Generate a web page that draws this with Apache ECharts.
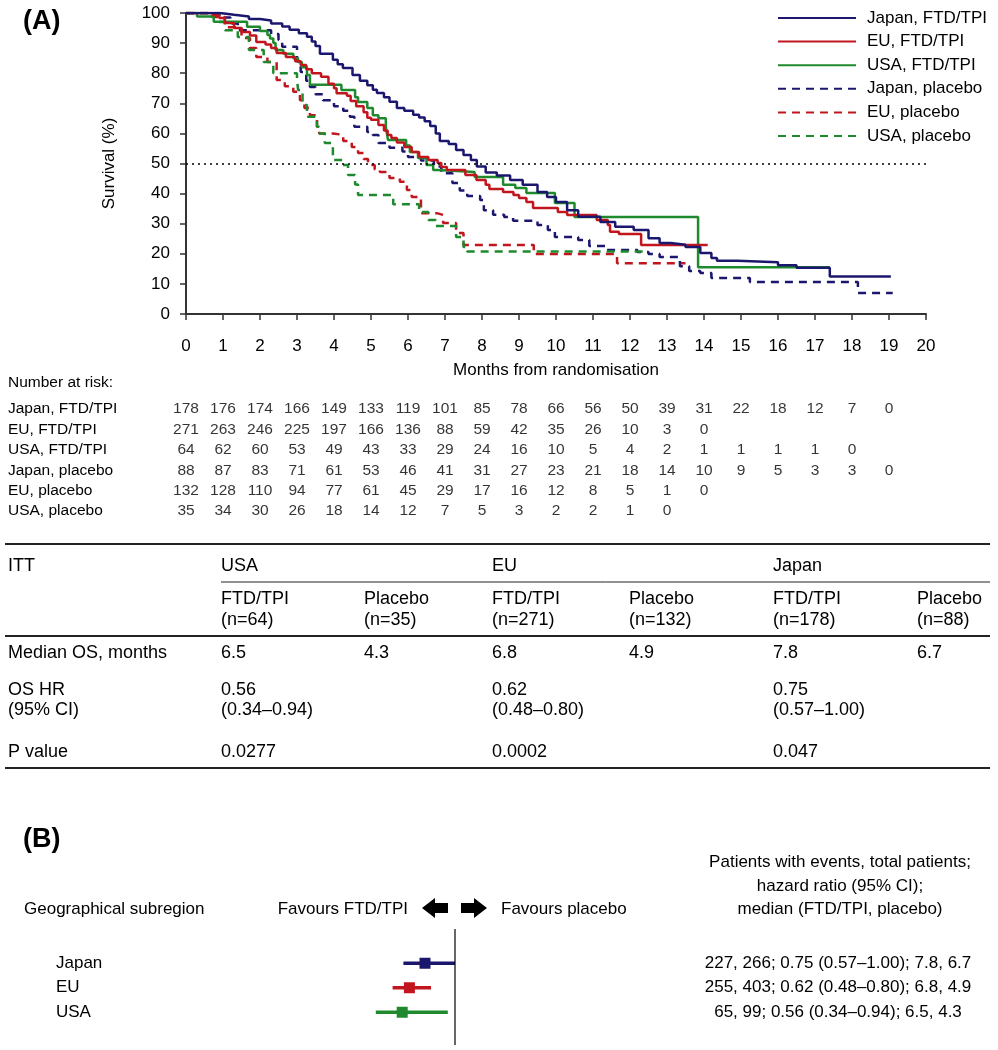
<!DOCTYPE html>
<html>
<head>
<meta charset="utf-8">
<script src="https://cdn.jsdelivr.net/npm/echarts@6/dist/echarts.min.js"></script>
<style>
  html, body { margin: 0; padding: 0; background: #fff; }
  #chart { width: 998px; height: 1050px; }
</style>
</head>
<body>
<div id="chart"></div>
<script>
const FONT = '"Liberation Sans", Arial, sans-serif'
const NAVY = '#1c176e'
const RED = '#c2161e'
const GREEN = '#1f8a2d'

// ---- panel A: Kaplan-Meier curves, [months, survival %]
const seriesNames = ['Japan, FTD/TPI', 'EU, FTD/TPI', 'USA, FTD/TPI', 'Japan, placebo', 'EU, placebo', 'USA, placebo']
const seriesColors = [NAVY, RED, GREEN, NAVY, RED, GREEN]

const jpFtd = [[0,100],[0.92,99.4],[1.3,98.8],[1.7,98],[2.0,97.5],[2.3,96.5],[2.6,95.5],[2.8,94.4],[3.05,93.3],[3.27,92.1],[3.4,90.5],[3.5,89],[3.62,86.5],[3.97,84.5],[4.1,83],[4.24,81.7],[4.5,79.4],[4.7,77.5],[4.9,76],[5.05,74.5],[5.16,73.4],[5.35,72],[5.5,70.5],[5.7,68.4],[5.9,67.5],[6.14,66.2],[6.3,65.3],[6.45,64],[6.6,62.5],[6.75,60],[6.86,57.5],[7.1,56.5],[7.3,54.5],[7.5,52.8],[7.7,51.2],[7.86,49],[8.1,47],[8.4,46],[8.76,44.5],[9.1,42.9],[9.5,40.5],[9.76,38.9],[10.0,37.2],[10.3,34.5],[10.6,32.3],[11.2,30.6],[11.6,29],[12.1,27.9],[12.5,25.2],[12.8,23.6],[13.1,23],[13.5,22.3],[13.9,20.3],[14.2,18.6],[14.35,17.7],[14.9,17.2],[16.0,16.2],[16.5,15.4],[17.4,12.5],[19.05,12.5]]
const euFtd = [[0,100],[0.73,99.3],[0.9,98.3],[1.05,96.7],[1.3,95],[1.5,93.7],[1.73,92.5],[1.9,90.4],[2.15,89.5],[2.3,88.4],[2.45,86.7],[2.7,85.4],[2.95,84],[3.1,82.7],[3.25,81.3],[3.4,80],[3.65,78.8],[3.85,76.5],[4.0,75],[4.07,73.3],[4.35,72.5],[4.45,70.8],[4.6,69],[4.8,67],[4.9,65.2],[5.0,64.5],[5.2,62.8],[5.35,61],[5.45,59.5],[5.55,58.5],[5.7,57],[5.9,55.5],[6.1,53.8],[6.3,52.2],[6.55,51.2],[6.8,50.2],[6.9,48.8],[7.05,47.8],[7.55,46.2],[7.85,44.5],[8.1,42.9],[8.2,41.5],[8.57,40.5],[8.85,39.5],[9.0,38.5],[9.2,37.2],[9.38,35.2],[10.05,33.9],[10.3,32.9],[11.1,31.2],[11.4,29.6],[11.46,27.3],[11.7,26.6],[12.3,22.9],[14.1,22.9]]
const usFtd = [[0,100],[0.3,98.8],[0.75,97.1],[1.65,95.4],[2.0,94],[2.2,92.7],[2.27,91.5],[2.36,90],[2.42,87.7],[2.63,86.5],[2.9,85],[3.03,83.7],[3.13,82],[3.27,79.4],[3.35,76.2],[4.2,74.4],[4.57,72],[4.65,70.4],[4.9,68.4],[5.05,66],[5.2,65],[5.4,62],[5.43,60],[5.46,57.8],[5.95,56],[6.05,53.8],[6.27,51.8],[6.5,49.5],[6.68,47.8],[6.8,47.2],[7.8,45.5],[8.57,42.9],[8.9,41.9],[9.2,40.2],[9.97,36.9],[10.5,32.2],[13.84,15.5],[17.4,15.5]]
const jpPla = [[0,100],[0.9,98.5],[1.2,96.5],[1.4,94.3],[2.3,93],[2.5,91],[2.6,88.8],[3.0,84],[3.1,80.4],[3.25,77.5],[3.35,75.4],[3.5,73],[3.7,71],[4.0,69],[4.25,67.5],[4.43,65.5],[4.55,62.2],[4.9,60.5],[5.05,59.5],[5.2,56.8],[5.5,55.2],[5.85,54],[6.0,52.2],[6.35,51],[6.7,49],[6.9,46.8],[7.2,43.5],[7.4,41],[7.6,39.2],[7.95,37.9],[8.05,34.5],[8.3,33],[8.6,32.2],[8.84,31],[9.5,29.6],[9.78,27.9],[9.97,25.6],[10.6,24.6],[10.9,22.6],[11.35,21.3],[12.2,20.6],[12.5,19.9],[12.8,18.9],[13.35,15.9],[13.6,14.3],[13.9,13.6],[14.2,12],[15.24,10.6],[18.16,7],[19.1,7]]
const euPla = [[0,100],[0.7,98.7],[1.05,95.3],[1.5,91.7],[1.73,88.4],[1.9,85.4],[2.2,83.7],[2.45,77.7],[2.67,75.7],[2.9,73.8],[3.08,71],[3.2,68.4],[3.35,66],[3.54,62.2],[3.6,60],[3.97,59.5],[4.25,57.5],[4.48,55.5],[4.65,53.5],[4.8,51.5],[4.92,49.5],[5.1,48],[5.24,47.2],[5.5,45.2],[5.78,43.9],[5.97,41.2],[6.1,38.9],[6.35,33.5],[6.78,32.9],[6.95,30.2],[7.3,26.9],[7.5,22.9],[9.4,19.9],[11.65,16.9],[13.5,16.9]]
const usPla = [[0,100],[0.9,97],[1.05,94.3],[1.4,92],[1.7,87.7],[2.1,83.7],[2.36,80],[3.0,77.7],[3.03,74.4],[3.15,69.4],[3.27,65.5],[3.54,62.2],[3.6,60],[3.75,56.8],[3.97,51.2],[4.24,49.5],[4.38,46.2],[4.57,43],[4.65,39.5],[5.6,36.5],[6.3,33.9],[6.55,31.2],[6.75,29.2],[7.3,25.6],[7.5,22.3],[7.6,20.8],[12.4,20.8]]
const kmData = [jpFtd, euFtd, usFtd, jpPla, euPla, usPla]

// ---- number at risk, one value per month from 0
const riskRows = seriesNames
const riskJpFtd = [178, 176, 174, 166, 149, 133, 119, 101, 85, 78, 66, 56, 50, 39, 31, 22, 18, 12, 7, 0]
const riskEuFtd = [271, 263, 246, 225, 197, 166, 136, 88, 59, 42, 35, 26, 10, 3, 0]
const riskUsFtd = [64, 62, 60, 53, 49, 43, 33, 29, 24, 16, 10, 5, 4, 2, 1, 1, 1, 1, 0]
const riskJpPla = [88, 87, 83, 71, 61, 53, 46, 41, 31, 27, 23, 21, 18, 14, 10, 9, 5, 3, 3, 0]
const riskEuPla = [132, 128, 110, 94, 77, 61, 45, 29, 17, 16, 12, 8, 5, 1, 0]
const riskUsPla = [35, 34, 30, 26, 18, 14, 12, 7, 5, 3, 2, 2, 1, 0]
const riskData = [riskJpFtd, riskEuFtd, riskUsFtd, riskJpPla, riskEuPla, riskUsPla]

// ---- ITT table
const ittGroups = ['USA', 'EU', 'Japan']
const ittArms = ['FTD/TPI', 'Placebo', 'FTD/TPI', 'Placebo', 'FTD/TPI', 'Placebo']
const ittN = ['(n=64)', '(n=35)', '(n=271)', '(n=132)', '(n=178)', '(n=88)']
const medianOs = ['6.5', '4.3', '6.8', '4.9', '7.8', '6.7']
const osHr = ['0.56', '0.62', '0.75']
const osHrCi = ['(0.34\u20130.94)', '(0.48\u20130.80)', '(0.57\u20131.00)']
const pValues = ['0.0277', '0.0002', '0.047']

// ---- panel B: forest plot
const regions = ['Japan', 'EU', 'USA']
const regionColors = [NAVY, RED, GREEN]
const hrPoint = [0.75, 0.62, 0.56]
const hrLow = [0.57, 0.48, 0.34]
const hrHigh = [1.00, 0.80, 0.94]
const regionSummary = [
  '227, 266; 0.75 (0.57\u20131.00); 7.8, 6.7',
  '255, 403; 0.62 (0.48\u20130.80); 6.8, 4.9',
  '65, 99; 0.56 (0.34\u20130.94); 6.5, 4.3'
]

function text(str, x, y, size, align, weight) {
  return {
    type: 'text',
    silent: true,
    style: {
      text: str,
      x: x,
      y: y,
      font: (weight || 'normal') + ' ' + size + 'px ' + FONT,
      fill: '#000',
      textAlign: align || 'left',
      align: align || 'left',
      textVerticalAlign: 'middle',
      verticalAlign: 'middle'
    }
  }
}
function hline(x1, x2, y, w) {
  return { type: 'line', silent: true, shape: { x1: x1, y1: y, x2: x2, y2: y }, style: { stroke: '#222', lineWidth: w } }
}

const colX = [221, 364, 492, 629, 773, 917]
const graphics = [
  text('(A)', 23, 22, 27, 'left', 'bold'),
  text('(B)', 23, 840, 27, 'left', 'bold'),
  text('Number at risk:', 8, 383, 15.5),
  hline(5, 990, 544, 2),
  hline(221, 990, 582, 1),
  hline(5, 990, 636, 2),
  hline(5, 990, 768, 2),
  text('ITT', 8, 566, 18),
  text('Median OS, months', 8, 653, 18),
  text('OS HR', 8, 690, 18),
  text('(95% CI)', 8, 710, 18),
  text('P value', 8, 752, 18),
  text('Geographical subregion', 24, 909, 17),
  text('Favours FTD/TPI', 408, 909, 17, 'right'),
  text('Favours placebo', 501, 909, 17, 'left'),
  text('Patients with events, total patients;', 840, 862, 17, 'center'),
  text('hazard ratio (95% CI);', 840, 886, 17, 'center'),
  text('median (FTD/TPI, placebo)', 840, 909, 17, 'center'),
  { type: 'polygon', silent: true, shape: { points: [[422, 908], [435, 898], [435, 903], [448, 903], [448, 913], [435, 913], [435, 918]] }, style: { fill: '#000' } },
  { type: 'polygon', silent: true, shape: { points: [[487, 908], [474, 898], [474, 903], [461, 903], [461, 913], [474, 913], [474, 918]] }, style: { fill: '#000' } }
]
ittGroups.forEach((g, i) => {
  graphics.push(text(g, colX[i * 2], 566, 18))
  graphics.push(text(osHr[i], colX[i * 2], 690, 18))
  graphics.push(text(osHrCi[i], colX[i * 2], 710, 18))
  graphics.push(text(pValues[i], colX[i * 2], 752, 18))
})
ittArms.forEach((a, i) => {
  graphics.push(text(a, colX[i], 599, 18))
  graphics.push(text(ittN[i], colX[i], 620, 18))
  graphics.push(text(medianOs[i], colX[i], 653, 18))
})

const kmSeries = kmData.map((d, i) => ({
  name: seriesNames[i],
  type: 'line',
  step: 'end',
  xAxisIndex: 0,
  yAxisIndex: 0,
  data: d,
  symbol: 'none',
  showSymbol: false,
  z: i < 3 ? 4 - i : 1,
  color: seriesColors[i],
  lineStyle: { width: 2.5, color: seriesColors[i], type: i < 3 ? 'solid' : [8, 6] },
  markLine: i === 0 ? {
    silent: true,
    symbol: 'none',
    label: { show: false },
    lineStyle: { color: '#000', type: [2, 4], width: 1.5 },
    data: [{ yAxis: 50 }]
  } : undefined
}))

const riskSeries = riskData.map((vals, r) => ({
  type: 'scatter',
  xAxisIndex: 1,
  yAxisIndex: 1,
  symbolSize: 1,
  silent: true,
  itemStyle: { color: 'rgba(0,0,0,0)' },
  label: { show: true, position: 'inside', color: '#000', fontSize: 15.5, fontFamily: FONT, formatter: p => p.value[2] },
  data: vals.map((n, m) => [m, r, n])
}))

const forestSeries = []
regions.forEach((reg, i) => {
  forestSeries.push({
    type: 'line',
    xAxisIndex: 2,
    yAxisIndex: 2,
    symbol: 'none',
    silent: true,
    lineStyle: { color: regionColors[i], width: 3.3 },
    data: [[hrLow[i], i], [hrHigh[i], i]]
  })
})
forestSeries.push({
  type: 'scatter',
  xAxisIndex: 2,
  yAxisIndex: 2,
  symbol: 'rect',
  symbolSize: 11,
  silent: true,
  z: 5,
  data: hrPoint.map((h, i) => ({ value: [h, i], itemStyle: { color: regionColors[i], opacity: 1 } }))
})
forestSeries.push({
  type: 'line',
  xAxisIndex: 3,
  yAxisIndex: 4,
  symbol: 'none',
  silent: true,
  lineStyle: { color: '#000', width: 1.2 },
  data: [[1, 0], [1, 1]]
})

const axisText = { color: '#000', fontSize: 17, fontFamily: FONT }

const option = {
  animation: false,
  backgroundColor: '#fff',
  textStyle: { fontFamily: FONT },
  graphic: graphics,
  legend: {
    data: seriesNames,
    orient: 'vertical',
    left: 772,
    top: 3,
    itemWidth: 78,
    itemHeight: 14,
    itemGap: 3.6,
    itemStyle: { opacity: 0 },
    textStyle: { color: '#000', fontSize: 17, fontFamily: FONT, lineHeight: 20, padding: [0, 0, 0, 6] }
  },
  grid: [
    { left: 186, right: 72, top: 13, height: 301 },
    { left: 186, right: 72, top: 399, height: 122.4 },
    { left: 335, width: 180, top: 951, height: 73.5 },
    { left: 335, width: 180, top: 929, height: 116 }
  ],
  xAxis: [
    {
      gridIndex: 0, type: 'value', min: 0, max: 20, interval: 1, offset: 11,
      name: 'Months from randomisation', nameLocation: 'middle', nameGap: 37,
      nameTextStyle: axisText,
      axisLine: { show: true, lineStyle: { color: '#333', width: 2 } },
      axisTick: { show: true, length: 6, lineStyle: { color: '#333', width: 1.5 } },
      axisLabel: Object.assign({ margin: 13 }, axisText),
      splitLine: { show: false }
    },
    { gridIndex: 1, type: 'value', min: 0, max: 20, show: false },
    { gridIndex: 2, type: 'value', min: 0, max: 1.5, show: false },
    { gridIndex: 3, type: 'value', min: 0, max: 1.5, show: false }
  ],
  yAxis: [
    {
      gridIndex: 0, type: 'value', min: 0, max: 100, interval: 10, offset: 6,
      name: 'Survival (%)', nameLocation: 'middle', nameGap: 62,
      nameTextStyle: axisText,
      axisLine: { show: true, lineStyle: { color: '#333', width: 2 } },
      axisTick: { show: true, length: 6, lineStyle: { color: '#333', width: 1.5 } },
      axisLabel: Object.assign({ margin: 10 }, axisText),
      splitLine: { show: false }
    },
    {
      gridIndex: 1, type: 'category', data: riskRows, inverse: true,
      axisLine: { show: false }, axisTick: { show: false }, splitLine: { show: false },
      axisLabel: { interval: 0, align: 'left', margin: 178, color: '#000', fontSize: 15.5, fontFamily: FONT }
    },
    {
      gridIndex: 2, type: 'category', data: regions, inverse: true,
      axisLine: { show: false }, axisTick: { show: false }, splitLine: { show: false },
      axisLabel: { interval: 0, align: 'left', margin: 279, color: '#000', fontSize: 17, fontFamily: FONT }
    },
    {
      gridIndex: 2, type: 'category', data: regions, inverse: true, position: 'right',
      axisLine: { show: false }, axisTick: { show: false }, splitLine: { show: false },
      axisLabel: { interval: 0, align: 'center', margin: 323, color: '#000', fontSize: 17, fontFamily: FONT, formatter: (v, i) => regionSummary[i] }
    },
    { gridIndex: 3, type: 'value', min: 0, max: 1, show: false }
  ],
  series: kmSeries.concat(riskSeries, forestSeries)
}

const chart = echarts.init(document.getElementById('chart'))
chart.setOption(option)
</script>
</body>
</html>
